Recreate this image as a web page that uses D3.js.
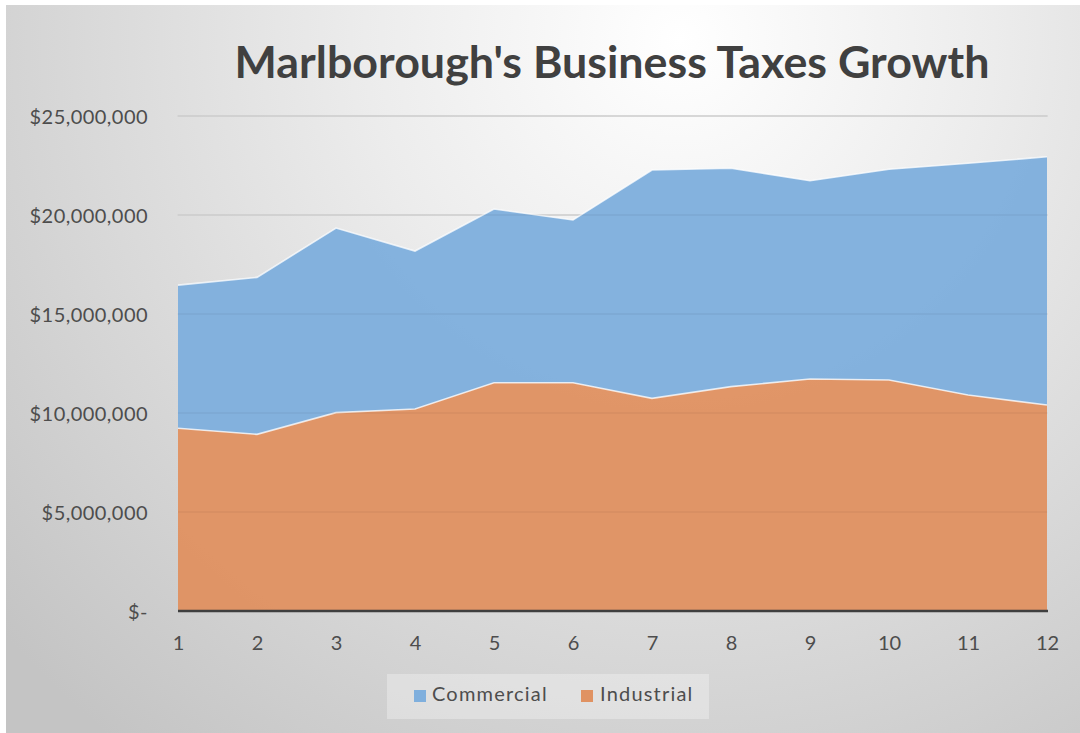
<!DOCTYPE html>
<html>
<head>
<meta charset="utf-8">
<script src="https://cdn.jsdelivr.net/npm/d3@7"></script>
<style>
  html, body { margin: 0; padding: 0; background: #ffffff; }
  svg { display: block; }
</style>
</head>
<body>
<svg id="chart" width="1080" height="733"></svg>
<script>
// Periods on the x axis
const periods = [1, 2, 3, 4, 5, 6, 7, 8, 9, 10, 11, 12];
// Tax revenue per period, in dollars
const industrial = [9230000, 8920000, 10020000, 10200000, 11530000, 11530000,
                    10740000, 11330000, 11720000, 11670000, 10910000, 10400000];
const commercial = [7230000, 7930000, 9320000, 7980000, 8770000, 8220000,
                    11530000, 11030000, 10010000, 10640000, 11700000, 12540000];
const seriesNames = ["Industrial", "Commercial"];
const yTicks = [0, 5000000, 10000000, 15000000, 20000000, 25000000];
const chartTitle = "Marlborough's Business Taxes Growth";

const colors = { Commercial: "#7fafdd", Industrial: "#e09262" };
const font = "Lato, 'Open Sans', sans-serif";
const labelColor = "#4d4d4d";

const svg = d3.select("#chart");
const W = 1080, H = 733;

// Background panel with a soft radial shading
const defs = svg.append("defs");
const bg = defs.append("radialGradient").attr("id", "bgGrad")
  .attr("gradientUnits", "userSpaceOnUse")
  .attr("cx", 680).attr("cy", 40).attr("r", 900);
bg.append("stop").attr("offset", "0%").attr("stop-color", "#ffffff");
bg.append("stop").attr("offset", "35%").attr("stop-color", "#ececec");
bg.append("stop").attr("offset", "100%").attr("stop-color", "#c4c4c4");

svg.append("rect").attr("x", 6).attr("y", 5).attr("width", W - 6).attr("height", H - 5)
  .attr("fill", "url(#bgGrad)");

const margin = { left: 178, right: 1047, top: 116, bottom: 611 };

const x = d3.scaleLinear().domain([1, 12]).range([margin.left, margin.right]);
const y = d3.scaleLinear().domain([0, 25000000]).range([margin.bottom, margin.top]);

// Rows for the stack
const rows = periods.map((p, i) => ({ period: p, Industrial: industrial[i], Commercial: commercial[i] }));
const stack = d3.stack().keys(seriesNames);
const layers = stack(rows);

// Gridlines
svg.append("g").selectAll("line").data(yTicks.filter(d => d > 0)).join("line")
  .attr("x1", margin.left - 1).attr("x2", margin.right + 1)
  .attr("y1", d => y(d)).attr("y2", d => y(d))
  .attr("stroke", "#d6d6d6").attr("stroke-width", 1.5);

// Stacked areas
const area = d3.area()
  .x(d => x(d.data.period))
  .y0(d => y(d[0]))
  .y1(d => y(d[1]));
svg.append("g").selectAll("path").data(layers).join("path")
  .attr("d", area)
  .attr("fill", d => colors[d.key])
  .attr("fill-opacity", 0.96);

// Thin light outline along the top of each band
const topLine = d3.line().x(d => x(d.data.period)).y(d => y(d[1]));
svg.append("g").selectAll("path").data(layers).join("path")
  .attr("d", topLine)
  .attr("fill", "none")
  .attr("stroke", "#ffffff")
  .attr("stroke-opacity", 0.75)
  .attr("stroke-width", 1.6);

// Faint gridlines showing through the blue band
svg.append("g").selectAll("line").data(yTicks.filter(d => d > 0)).join("line")
  .attr("x1", margin.left).attr("x2", margin.right)
  .attr("y1", d => y(d)).attr("y2", d => y(d))
  .attr("stroke", "#000000").attr("stroke-opacity", 0.05).attr("stroke-width", 1.5);

// Baseline
svg.append("line")
  .attr("x1", margin.left).attr("x2", margin.right + 1)
  .attr("y1", y(0)).attr("y2", y(0))
  .attr("stroke", "#3f3f3f").attr("stroke-width", 2.5);

// Y axis labels
const fmt = v => v === 0 ? "$-" : "$" + d3.format(",")(v);
const yAxis = d3.axisLeft(y).tickValues(yTicks).tickFormat(fmt).tickSize(0).tickPadding(0);
const yg = svg.append("g").attr("transform", `translate(${margin.left - 30},0)`).call(yAxis);
yg.select(".domain").remove();
yg.selectAll("text")
  .attr("font-family", font).attr("font-size", 20).attr("fill", labelColor)
  .attr("letter-spacing", 0.45)
  .attr("dy", "0.35em");

// X axis labels
const xAxis = d3.axisBottom(x).tickValues(periods).tickFormat(d3.format("d")).tickSize(0).tickPadding(0);
const xg = svg.append("g").attr("transform", `translate(0,${y(0) + 32})`).call(xAxis);
xg.select(".domain").remove();
xg.selectAll("text")
  .attr("font-family", font).attr("font-size", 20).attr("fill", labelColor)
  .attr("dy", "0.35em");

// Title
const title = svg.append("text")
  .attr("x", 612).attr("y", 78)
  .attr("text-anchor", "middle")
  .attr("font-family", font).attr("font-weight", 700)
  .attr("font-size", 40).attr("fill", "#404040")
  .text(chartTitle);
const tw = title.node().getComputedTextLength();
title.attr("font-size", 40 * 755 / tw);

// Legend
const legend = svg.append("g");
legend.append("rect").attr("x", 387).attr("y", 674).attr("width", 322).attr("height", 45)
  .attr("fill", "#ffffff").attr("fill-opacity", 0.3);
const legendItems = [
  { key: "Commercial", sx: 414, tx: 432 },
  { key: "Industrial", sx: 581, tx: 600 }
];
legendItems.forEach(it => {
  legend.append("rect").attr("x", it.sx).attr("y", 690).attr("width", 12).attr("height", 12)
    .attr("fill", colors[it.key]);
  legend.append("text").attr("x", it.tx).attr("y", 694)
    .attr("dy", "0.35em")
    .attr("font-family", font).attr("font-size", 20).attr("fill", labelColor)
    .attr("letter-spacing", 1.2)
    .text(it.key);
});
</script>
</body>
</html>
